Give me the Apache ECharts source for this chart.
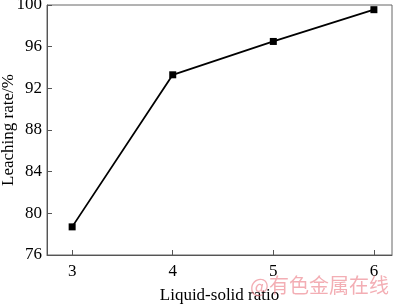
<!DOCTYPE html>
<html><head><meta charset="utf-8">
<script src="https://cdn.jsdelivr.net/npm/echarts@6/dist/echarts.min.js"></script>
<style>html,body{margin:0;padding:0;background:#fff}#c{width:400px;height:305px}</style>
</head><body><div id="c"></div>
<script>
var ratios = [3, 4, 5, 6];
var leachingRate = [78.7, 93.3, 96.5, 99.55];
var xTicks = [3, 4, 5, 6];
var yTicks = [76, 80, 84, 88, 92, 96, 100];

var chart = echarts.init(document.getElementById('c'), null, {renderer: 'canvas'});
var font = 'Liberation Serif';
chart.setOption({
  animation: false,
  backgroundColor: '#fff',
  grid: {left: 47, right: 8, top: 5, bottom: 50, containLabel: false, outerBoundsMode: 'none',
         show: true, borderColor: '#666', borderWidth: 1},
  xAxis: {
    type: 'value', min: 2.75, max: 6.18,
    name: 'Liquid-solid ratio', nameLocation: 'middle', nameGap: 32, nameMoveOverlap: false,
    nameTextStyle: {fontFamily: font, fontSize: 17, color: '#000'},
    axisLine: {onZero: false, lineStyle: {color: '#555', width: 1}},
    axisTick: {inside: true, length: 5, customValues: xTicks, lineStyle: {color: '#555'}},
    axisLabel: {customValues: xTicks, fontFamily: font, fontSize: 17, color: '#000', margin: 8},
    splitLine: {show: false}
  },
  yAxis: {
    type: 'value', min: 76, max: 100, interval: 4,
    name: 'Leaching rate/%', nameLocation: 'middle', nameGap: 30, nameMoveOverlap: false,
    nameTextStyle: {fontFamily: font, fontSize: 17, color: '#000'},
    axisLine: {show: true, lineStyle: {color: '#555', width: 1}},
    axisTick: {show: true, inside: true, length: 5, lineStyle: {color: '#555'}},
    axisLabel: {fontFamily: font, fontSize: 17, color: '#000', margin: 5},
    splitLine: {show: false}
  },
  graphic: [{
    type: 'text', x: 250, y: 275, z: 100,
    style: {text: '@有色金属在线', font: '20px "Noto Sans CJK SC"', fill: 'rgba(235,120,130,0.6)'}
  }],
  series: [{
    type: 'line',
    data: ratios.map(function(r, i){ return [r, leachingRate[i]]; }),
    symbol: 'rect', symbolSize: 7,
    lineStyle: {color: '#000', width: 1.8},
    itemStyle: {color: '#000'}
  }]
});
</script></body></html>
